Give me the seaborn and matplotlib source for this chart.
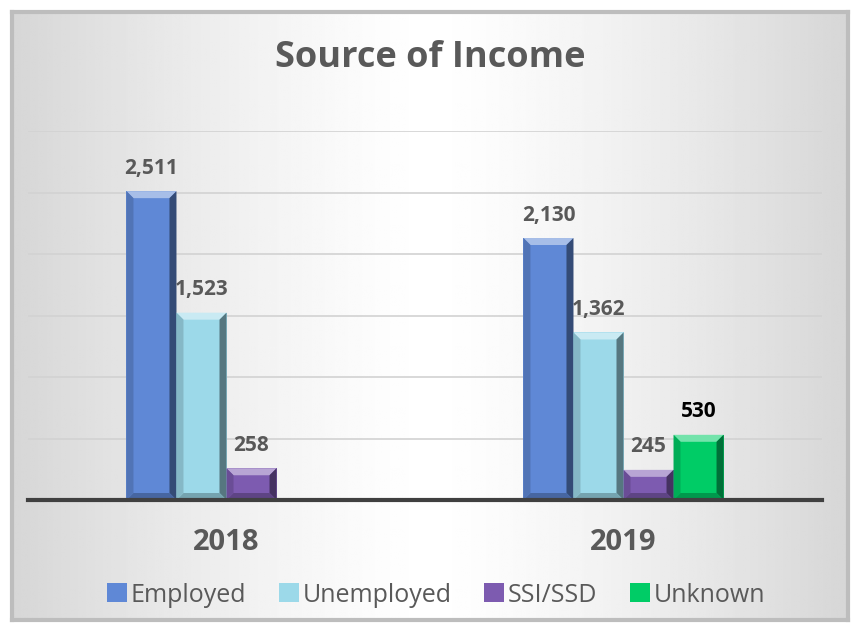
import numpy as np
import pandas as pd
import matplotlib
matplotlib.use("Agg")
import matplotlib.pyplot as plt
from matplotlib.patches import Polygon
import matplotlib.colors as mcolors
import seaborn as sns

# --- dados ---
years = ["2018", "2019"]
sources = ["Employed", "Unemployed", "SSI/SSD", "Unknown"]
employed = [2511, 2130]
unemployed = [1523, 1362]
ssi_ssd = [258, 245]
unknown = [np.nan, 530]

colors = ["#5f88d6", "#9cd9e9", "#7d5bb0", "#00cc66"]
grey_txt = "#595959"

rows = []
for i, y in enumerate(years):
    for s, vals in zip(sources, [employed, unemployed, ssi_ssd, unknown]):
        rows.append({"Year": y, "Source": s, "Count": vals[i]})
df = pd.DataFrame(rows)

sns.set_theme(style="white")
plt.rcParams["font.family"] = ["Open Sans", "DejaVu Sans"]

fig = plt.figure(figsize=(8.59, 6.30), dpi=100)
fig.patch.set_facecolor("white")

# fundo com gradiente (moldura)
bg = fig.add_axes([12 / 859, 1 - 620 / 630, (848 - 12) / 859, (620 - 12) / 630], zorder=-5)
grad = np.linspace(-1, 1, 400)
grad = 1 - 0.16 * np.abs(grad) ** 1.3
bg.imshow(np.tile(grad, (10, 1)), cmap="gray", vmin=0, vmax=1, aspect="auto",
          extent=[0, 1, 0, 1])
bg.set_xticks([])
bg.set_yticks([])
for sp in bg.spines.values():
    sp.set_color("#bdbdbd")
    sp.set_linewidth(3)

ax = fig.add_axes([28 / 859, 1 - 500 / 630, (822 - 28) / 859, (500 - 131) / 630])
ax.patch.set_alpha(0)

sns.barplot(data=df, x="Year", y="Count", hue="Source", hue_order=sources,
            palette=colors, width=0.504, gap=0, saturation=1, ax=ax,
            edgecolor="none", zorder=3, legend=True)

ax.set_xlim(-0.5, 1.5)
ax.set_ylim(0, 3000)
ax.set_yticks(np.arange(500, 3001, 500))
ax.yaxis.grid(True, color="#d2d2d2", linewidth=1.2, zorder=0)
ax.set_yticklabels([])
ax.tick_params(axis="y", length=0)
ax.tick_params(axis="x", length=0, pad=20)
ax.set_xlabel("")
ax.set_ylabel("")
for lbl in ax.get_xticklabels():
    lbl.set_fontsize(21)
    lbl.set_fontweight("bold")
    lbl.set_color(grey_txt)
for side in ["top", "right", "left"]:
    ax.spines[side].set_visible(False)
ax.spines["bottom"].set_color("#404040")
ax.spines["bottom"].set_linewidth(3)
ax.spines["bottom"].set_zorder(6)

# efeito de bisel nas barras
dx = 7 / 397
dy = 7 * 500 / 61.5
for cont, c in zip(ax.containers, colors):
    base = np.array(mcolors.to_rgb(c))
    light = base + (1 - base) * 0.45
    dark = base * 0.55
    for p in cont.patches:
        h = p.get_height()
        if not np.isfinite(h) or h <= 0:
            continue
        x0, w = p.get_x(), p.get_width()
        x1 = x0 + w
        d = min(dy, h / 2)
        ax.add_patch(Polygon([[x0, h], [x1, h], [x1 - dx, h - d], [x0 + dx, h - d]],
                             closed=True, facecolor=light, edgecolor="none", zorder=4))
        ax.add_patch(Polygon([[x1, h], [x1, 0], [x1 - dx, d], [x1 - dx, h - d]],
                             closed=True, facecolor=dark, edgecolor="none", zorder=4))
        ax.add_patch(Polygon([[x0, 0], [x1, 0], [x1 - dx, d], [x0 + dx, d]],
                             closed=True, facecolor=base * 0.75, edgecolor="none", zorder=4))
        ax.add_patch(Polygon([[x0, h], [x0, 0], [x0 + dx, d], [x0 + dx, h - d]],
                             closed=True, facecolor=base * 0.85, edgecolor="none", zorder=4))

# rótulos de valor
for cont, s in zip(ax.containers, sources):
    labels = [f"{v:,.0f}" if np.isfinite(v) and v > 0 else "" for v in cont.datavalues]
    ax.bar_label(cont, labels=labels, padding=9, fontsize=15, fontweight="bold",
                 color="black" if s == "Unknown" else grey_txt, zorder=7)

# legenda
handles, labs = ax.get_legend_handles_labels()
ax.legend_.remove()
fig.legend(handles, labs, loc="center", bbox_to_anchor=(436 / 859, 1 - 595 / 630),
           ncol=4, frameon=False, fontsize=18, handlelength=0.8, handleheight=0.8,
           handletextpad=0.15, columnspacing=1.3, labelcolor=grey_txt)

fig.text(430 / 859, 1 - 58 / 630, "Source of Income", ha="center", va="center",
         fontsize=26, fontweight="bold", color=grey_txt)

fig.savefig("out.png", dpi=100)
